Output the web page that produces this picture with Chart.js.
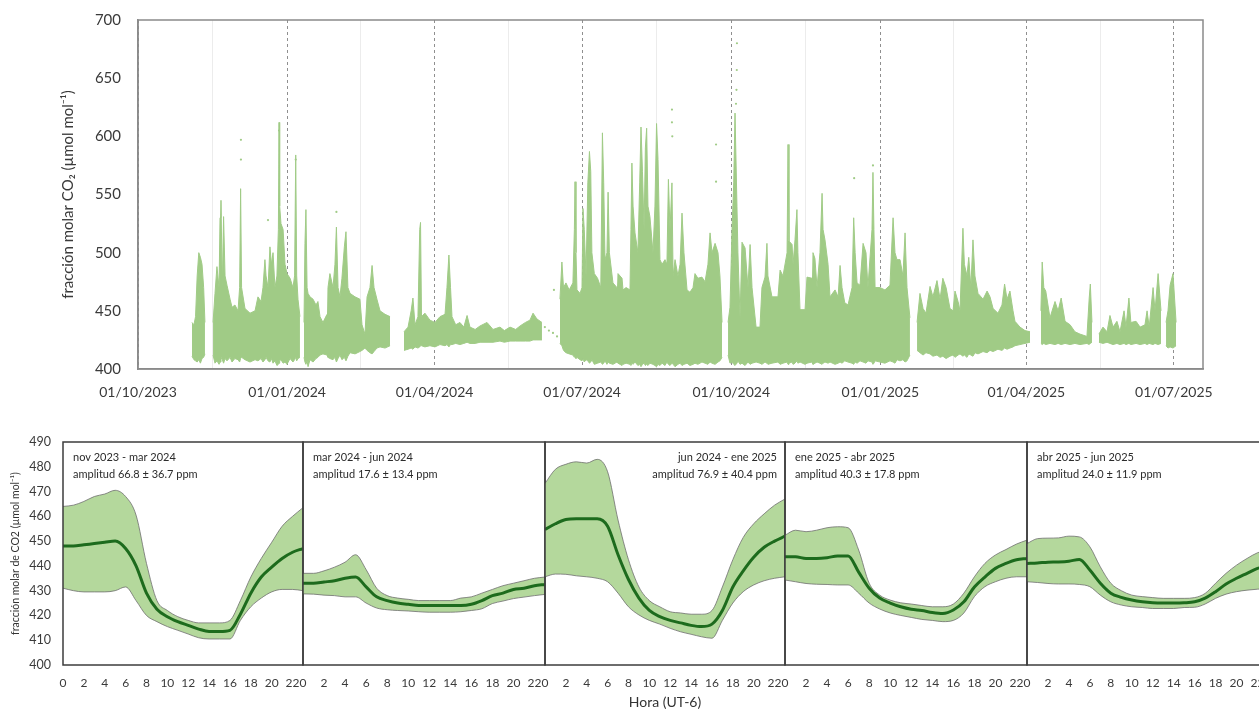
<!DOCTYPE html>
<html lang="es">
<head>
<meta charset="utf-8">
<title>CO2</title>
<script src="https://cdn.jsdelivr.net/npm/chart.js@4.4.1/dist/chart.umd.min.js"></script>
<style>
  html, body { margin: 0; padding: 0; background: #fff; overflow: hidden; }
  body { width: 1259px; height: 711px; position: relative; }
  canvas { position: absolute; }
</style>
</head>
<body>
<canvas id="serie" width="1259" height="410" style="left:0;top:0"></canvas>
<script>
// ---- serie de tiempo: dias desde 01/10/2023, rango observado (min - max) ----
const dias = [
  33.3, 34.5, 35.5, 36.5, 37.5, 38.5, 39.5, 40.5, 41.3, 44,
  46.3, 47.5, 48.7, 50, 50.6, 51.2, 52, 52.8, 53.7, 54.9, 56.8, 58, 59.8, 61.7, 62.7, 63.3, 63.9, 66, 69.1, 72.2, 74, 75.9, 77.1, 78.3, 79, 80.2, 81.4, 82.3, 83.3, 84.5, 85.7, 86.6, 87, 87.4, 88.2, 89.5, 90.7, 91.9, 93.8, 95.6, 96.6, 97.3, 97.9, 98.7, 99.9, 101,
  102.4, 103, 103.6, 104.3, 104.9, 106.1, 108, 109.8, 111, 112.3, 114.1, 116.6, 117.2, 118.4, 120.3, 121.5, 122.4, 123.4, 124.6, 125.8, 127.3, 128.3, 129.5, 130.8, 133.9, 136.9, 138.2, 140, 141.3, 143.1, 144.4, 145.6, 147.4, 149.3, 152.4, 155.5, 160,
  164.1, 166.6, 168.5, 169.6, 170.9, 172.7, 173.8, 174.3, 174.9, 177, 180.1, 183.2, 186.3, 189.4, 190.6, 191.8, 192.8, 193.7, 196, 198.6, 201, 203, 204.8, 208, 211, 215.3, 219, 223.3, 226, 229.5, 233, 235.7, 239, 241.8, 243.7, 246.1, 249.2, 255,
  260.3, 261.5, 262.5, 264, 266, 268.3, 269.2, 269.6, 270.2, 270.8, 272.7, 273.9, 274.5, 275.3, 276.4, 277.5, 278.5, 279.3, 280, 281.5, 283.5, 285.5, 286.5, 287.3, 288.1, 289.3, 290, 290.8, 293, 295.5, 296.1, 298.6, 299.2, 301.1, 303.5, 304.1, 304.7, 305.4, 306.6, 308.4, 309.5, 310.3, 311.2, 312.2, 313, 313.8, 314.6, 315.8, 317.7, 318.9, 319.9, 320.8, 322, 323.3, 325.1, 326.3, 327.2, 328.2, 329.4, 330.1, 331.3, 333.1, 334.4, 335.6, 336.8, 338.7, 340.5, 342.4, 343.6, 345.4, 347.9, 349.8, 351.6, 352.9, 354.1, 356, 357.8, 359, 360.3, 362,
  364, 365.2, 366.4, 367.5, 368.3, 369.5, 370.1, 371.4, 372.6, 374.5, 376.3, 377.6, 378.8, 381.3, 383.7, 384.9, 386.8, 388, 388.6, 391.1, 394.8, 396.1, 397.9, 400.4, 401, 401.6, 403.5, 404.1, 405.3, 406.5, 407.1, 408.4, 411.5, 412.7, 415.8, 416.4, 417.6, 418.9, 420.7, 422, 422.6, 423.8, 425.7, 426.9, 430, 431.9, 433.1, 434.3, 436, 438, 440.5, 441.5, 442.4, 443.6, 445.4, 447.3, 449.1, 450.3, 452.8, 453.4, 454, 454.7, 457.7, 460.8, 463.9, 465.8, 467, 468.2, 470.1, 471.9, 473.2, 474.4, 476.2, 478.5,
  480.6, 482.4, 484.3, 486.1, 488.6, 490.4, 492.9, 494.8, 496.5, 498.5, 500.9, 502.8, 504, 505.9, 507.1, 508.9, 509.8, 511.4, 512.5, 513.8, 515.1, 516.3, 518.2, 521.3, 523.8, 525.6, 527.5, 530.5, 533, 534.6, 536.1, 537.9, 539.8, 541, 544.1, 547.2, 550.3, 554,
  557, 557.8, 558.8, 560, 562.6, 565.7, 567.6, 569.5, 571.9, 575, 578, 581.1, 585.4, 586.8, 587.5, 588.5, 590.5,
  592.8, 595.3, 597.8, 599.6, 601.5, 603.9, 605.8, 608.3, 609.5, 611.3, 612.5, 615.7, 618.2, 621.2, 622.5, 623.8, 626.2, 627.4, 629.3, 631.1, 632.6,
  634.2, 635.4, 636.7, 638.5, 640.4
];
const maximo = [
  440, 438, 445, 480, 500, 496, 490, 470, 440, null,
  440, 465, 488, 470, 530, 545, 470, 531, 480, 472, 460, 453, 455, 450, 470, 555, 470, 452, 448, 450, 462, 458, 470, 494, 480, 470, 505, 490, 500, 470, 480, 520, 612, 540, 525, 520, 490, 482, 478, 470, 480, 584, 480, 460, 445, null,
  440, 508, 537, 470, 465, 462, 460, 455, 458, 445, 440, 447, 470, 482, 470, 490, 522, 470, 462, 478, 505, 518, 470, 465, 462, 460, 438, 430, 462, 470, 489, 470, 460, 450, 447, 445, null,
  432, 436, 450, 461, 438, 445, 520, 526, 445, 448, 442, 440, 445, 447, 470, 498, 470, 445, 438, 440, 436, 446, 436, 434, 437, 440, 434, 436, 433, 436, 434, 437, 440, 442, 448, 443, 440, null,
  460, 492, 470, 474, 468, 474, 520, 561, 500, 468, 465, 470, 538, 520, 480, 560, 587, 570, 500, 482, 478, 470, 603, 560, 494, 500, 552, 500, 474, 470, 482, 478, 468, 470, 468, 520, 577, 540, 517, 500, 560, 608, 570, 520, 590, 607, 540, 531, 500, 540, 611, 580, 494, 490, 494, 490, 563, 520, 560, 480, 494, 480, 490, 534, 500, 468, 466, 470, 482, 478, 479, 475, 490, 517, 500, 508, 500, 480, 440, null,
  440, 453, 517, 560, 620, 540, 500, 444, 509, 504, 470, 507, 470, 436, 436, 470, 479, 508, 480, 462, 462, 485, 480, 500, 593, 510, 507, 490, 511, 537, 500, 451, 451, 479, 478, 500, 495, 470, 500, 551, 520, 511, 490, 462, 468, 462, 489, 470, 457, 455, 470, 530, 500, 474, 472, 508, 500, 470, 520, 569, 520, 470, 470, 468, 472, 530, 500, 494, 494, 480, 517, 470, 444, null,
  440, 465, 452, 448, 471, 462, 476, 460, 478, 470, 452, 450, 467, 458, 450, 521, 490, 480, 496, 470, 511, 480, 465, 460, 467, 462, 452, 448, 455, 473, 460, 467, 450, 441, 436, 433, 432, null,
  450, 492, 470, 467, 444, 458, 450, 461, 441, 438, 432, 430, 428, 461, 473, 440, null,
  430, 436, 432, 446, 436, 441, 432, 450, 436, 461, 440, 441, 436, 438, 450, 436, 470, 450, 482, 450, null,
  440, 450, 472, 482, 440
];
const minimo = [
  411, 408, 407, 406, 408, 405, 409, 410, 413, null,
  412, 405, 407, 404, 406, 410, 408, 405, 409, 407, 410, 406, 409, 408, 406, 409, 410, 408, 406, 408, 407, 409, 406, 408, 410, 407, 406, 409, 405, 407, 403, 404, 405, 407, 408, 405, 406, 404, 409, 406, 408, 410, 407, 409, 410, null,
  410, 406, 404, 407, 402, 408, 406, 409, 410, 412, 413, 412, 410, 409, 408, 410, 406, 409, 412, 408, 410, 407, 411, 414, 413, 415, 416, 418, 416, 414, 413, 415, 418, 419, 418, 420, null,
  416, 417, 418, 417, 419, 418, 419, 420, 420, 419, 420, 419, 421, 420, 421, 419, 421, 421, 422, 421, 422, 423, 422, 422, 423, 423, 423, 424, 423, 424, 424, 424, 424, 424, 425, 425, 425, null,
  422, 420, 416, 414, 413, 412, 410, 411, 409, 410, 408, 407, 409, 406, 408, 407, 405, 406, 408, 404, 405, 406, 404, 405, 407, 404, 406, 405, 404, 406, 405, 403, 404, 405, 404, 403, 405, 404, 406, 403, 404, 402, 404, 405, 403, 404, 403, 405, 404, 403, 402, 404, 403, 405, 403, 406, 404, 403, 405, 404, 402, 404, 405, 403, 404, 405, 403, 404, 405, 404, 406, 405, 404, 406, 405, 404, 406, 407, 410, null,
  412, 405, 406, 404, 403, 405, 407, 404, 405, 403, 406, 404, 405, 406, 405, 404, 406, 405, 404, 405, 406, 404, 405, 406, 404, 405, 406, 404, 405, 407, 405, 406, 404, 405, 406, 404, 405, 406, 405, 404, 405, 406, 405, 406, 404, 405, 406, 405, 407, 406, 405, 404, 406, 405, 407, 406, 405, 407, 406, 404, 405, 407, 406, 405, 407, 406, 405, 408, 407, 408, 406, 407, 412, null,
  416, 414, 412, 414, 413, 411, 412, 410, 411, 409, 411, 412, 410, 412, 413, 411, 412, 410, 413, 412, 411, 414, 413, 415, 414, 416, 415, 417, 416, 418, 417, 418, 419, 420, 421, 422, 423, null,
  422, 421, 422, 421, 422, 421, 422, 421, 422, 421, 422, 421, 422, 421, 422, 423, null,
  423, 422, 423, 422, 421, 422, 421, 422, 421, 422, 421, 422, 421, 422, 421, 422, 421, 422, 421, 422, null,
  420, 418, 419, 418, 420
];
// puntos aislados por encima del rango principal
const atipicosDia = [63.5, 63.5, 80.2, 87, 97.3, 122.4, 251, 253.5, 256, 256.6, 258.5, 329.4, 329.4, 329.6, 356.6, 356.6, 368.9, 369.2, 369.4, 369.5, 441.8, 453.4];
const atipicosValor = [597, 580, 528, 605, 580, 535, 436, 433, 431, 468, 428, 623, 612, 600, 593, 561, 628, 640, 657, 680, 564, 575];

const diasEtiqueta = [0, 92, 183, 274, 366, 458, 548, 639];
const etiquetasFecha = ['01/10/2023', '01/01/2024', '01/04/2024', '01/07/2024', '01/10/2024', '01/01/2025', '01/04/2025', '01/07/2025'];
const diasIntermedios = [46, 137.5, 228.5, 320, 412, 503, 593.5];

// ---- ciclo diurno por periodo ----
const horas = [0, 1, 2, 3, 4, 5, 6, 7, 8, 9, 10, 11, 12, 13, 14, 15, 16, 17, 18, 19, 20, 21, 22, 23];
const horasEtiqueta = [0, 2, 4, 6, 8, 10, 12, 14, 16, 18, 20, 22];
const periodos = ['nov 2023 - mar 2024', 'mar 2024 - jun 2024', 'jun 2024 - ene 2025', 'ene 2025 - abr 2025', 'abr 2025 - jun 2025'];
const amplitudes = ['amplitud 66.8 ± 36.7 ppm', 'amplitud 17.6 ± 13.4 ppm', 'amplitud 76.9 ± 40.4 ppm', 'amplitud 40.3 ± 17.8 ppm', 'amplitud 24.0 ± 11.9 ppm'];

const media1 = [448, 448, 448.5, 449, 449.5, 450, 447, 440, 429, 422.5, 419.5, 417.5, 416, 414.5, 413.5, 413.5, 414, 420.5, 429, 435.5, 439.5, 443, 445.5, 447];
const sup1 = [464, 464.5, 466, 468, 469, 470.5, 468, 460.5, 441, 426, 422, 419.5, 418, 417, 417, 417, 418, 426, 435.5, 443, 449.5, 456, 460, 463.5];
const inf1 = [431, 430, 429.5, 429.5, 429.5, 430, 431.5, 426, 420, 417.5, 415.5, 414, 412.5, 411, 410.5, 410.5, 410.5, 418, 423.5, 427, 429.5, 430.5, 430.5, 430];

const media2 = [433, 433, 433.5, 434, 435, 435.5, 431.5, 427.5, 426, 425, 424.5, 424, 424, 424, 424, 424, 424.5, 426, 428, 429, 430.5, 431, 432, 432.5];
const sup2 = [437, 437, 438, 439.5, 441.5, 444.5, 438.5, 431, 428, 427, 426.5, 426, 426, 426, 426, 427, 427.5, 429, 430.5, 432, 433, 434, 435, 435.5];
const inf2 = [428.7, 428.6, 428.2, 428, 427.5, 427.5, 425, 423, 422.3, 422, 421.8, 421.5, 421.3, 421.3, 421.3, 421.5, 422, 422.7, 424.8, 425.8, 426.8, 427.4, 428, 428.5];

const media3 = [454.7, 457, 458.7, 459, 459, 459, 456, 444.5, 434.5, 427, 422, 419.5, 418, 417, 416, 415.5, 416.5, 422, 431.5, 438, 443.5, 447.5, 450, 452];
const sup3 = [473.3, 479, 481, 482, 481.5, 483, 478, 458.5, 442.5, 431.5, 426, 423.5, 421.5, 421, 420.5, 420.5, 422, 431.5, 442.5, 451.5, 457, 461, 464.5, 467];
const inf3 = [435.6, 436.7, 436.6, 436, 435.6, 435, 433.6, 429, 423.5, 420.2, 418, 416.5, 414.8, 413.4, 412.4, 411.4, 410.8, 418, 425, 429.6, 432.3, 434, 435, 435.6];

const media4 = [443.7, 443.7, 443, 443, 443.3, 444, 444, 437.5, 431, 427, 425, 423.5, 422.5, 422, 421.2, 420.8, 422.2, 425.5, 431.5, 435.5, 439, 441, 442.5, 443];
const sup4 = [452.4, 454.4, 453.8, 454.4, 455.4, 455.8, 455.4, 446.4, 433, 428.2, 426.2, 425.1, 424.6, 424, 423.5, 423.5, 424.6, 429, 435.6, 441, 444.4, 446.6, 448.8, 450.4];
const inf4 = [434.3, 433.6, 432.9, 432.6, 432.5, 432.3, 432.3, 429, 425, 422.6, 421, 420, 419.2, 418.4, 418, 417.5, 418, 421, 427.6, 431.6, 433.6, 435, 435.6, 435.6];

const media5 = [441, 441.2, 441.5, 441.6, 441.9, 442.6, 438.3, 433, 429, 427.3, 426.2, 425.5, 425.1, 425, 425, 425.1, 425.5, 427, 429.6, 432.7, 435, 437, 439, 440];
const sup5 = [449, 451, 451.2, 451.3, 452, 451.7, 447.7, 439.6, 433, 430, 428.2, 427.6, 427.2, 426.9, 426.9, 426.9, 427.2, 428.9, 433, 437, 440.3, 443, 445.3, 446.5];
const inf5 = [433.6, 433.3, 432.9, 432.7, 432.7, 432.5, 431.6, 428.2, 425.5, 424.2, 423.5, 423.2, 422.8, 422.8, 422.8, 423.2, 423.3, 424.6, 426.9, 428.6, 429.6, 430.2, 430.6, 431];

const ciclos = [
  [media1, sup1, inf1],
  [media2, sup2, inf2],
  [media3, sup3, inf3],
  [media4, sup4, inf4],
  [media5, sup5, inf5]
];

Chart.defaults.font.family = "Lato, 'Open Sans', sans-serif";
Chart.defaults.color = '#333';

const verde = '#a0cb86';
function pares(xs, ys) { return xs.map((x, i) => ({x: x, y: ys[i]})); }

// marco alrededor del area y textos de cada panel
const marco = {
  id: 'marco',
  afterDraw(chart, args, opts) {
    const ctx = chart.ctx, a = chart.chartArea;
    ctx.save();
    ctx.strokeStyle = opts.color;
    ctx.lineWidth = opts.width;
    ctx.strokeRect(a.left, a.top, a.right - a.left, a.bottom - a.top);
    if (opts.lineas) {
      ctx.fillStyle = '#2b2b2b';
      ctx.font = "11px Lato, 'Open Sans', sans-serif";
      ctx.textBaseline = 'middle';
      ctx.textAlign = opts.derecha ? 'right' : 'left';
      const x = opts.derecha ? a.right - 8 : a.left + 10;
      ctx.fillText(opts.lineas[0], x, a.top + 15);
      ctx.fillText(opts.lineas[1], x, a.top + 32);
    }
    ctx.restore();
  }
};

// eje y sin lineas: las marcas invisibles separan las etiquetas del eje
const ejeSinLineas = largo => ({
  display: true,
  drawOnChartArea: false,
  drawTicks: true,
  tickLength: largo,
  color: 'rgba(0,0,0,0)'
});

// ---- grafica superior ----
const marcasX = diasEtiqueta.concat(diasIntermedios).sort((a, b) => a - b);
const esMayor = ctx => ctx.tick && diasEtiqueta.indexOf(ctx.tick.value) >= 0;

new Chart(document.getElementById('serie'), {
  type: 'line',
  data: {
    datasets: [
      {
        type: 'scatter',
        data: pares(atipicosDia, atipicosValor),
        pointRadius: 1.1,
        pointBackgroundColor: verde,
        pointBorderWidth: 0
      },
      {
        data: pares(dias, maximo),
        borderColor: verde,
        borderWidth: 1,
        pointRadius: 0,
        tension: 0,
        spanGaps: false
      },
      {
        data: pares(dias, minimo),
        borderColor: verde,
        borderWidth: 1,
        pointRadius: 0,
        tension: 0,
        spanGaps: false,
        fill: '-1',
        backgroundColor: verde
      }
    ]
  },
  options: {
    responsive: false,
    animation: false,
    events: [],
    layout: { padding: { left: 0, right: 56, top: 20, bottom: 0 } },
    plugins: {
      legend: { display: false },
      tooltip: { enabled: false },
      marco: { color: '#8a8a8a', width: 1.5 }
    },
    scales: {
      x: {
        type: 'linear',
        min: 0,
        max: 657,
        afterBuildTicks: s => { s.ticks = marcasX.map(v => ({value: v})); },
        afterFit: s => { s.height = 41; },
        ticks: {
          autoSkip: false,
          maxRotation: 0,
          padding: 15,
          color: '#3a3a3a',
          font: { size: 14 },
          callback: v => {
            const i = diasEtiqueta.indexOf(v);
            return i >= 0 ? etiquetasFecha[i] : '';
          }
        },
        grid: {
          drawTicks: false,
          lineWidth: 1,
          color: ctx => esMayor(ctx) ? '#8f8f8f' : '#ececec'
        },
        border: {
          color: '#8a8a8a',
          width: 1.5,
          dash: ctx => esMayor(ctx) ? [3, 3] : []
        }
      },
      y: {
        min: 400,
        max: 700,
        afterFit: s => { s.width = 138; },
        ticks: { stepSize: 50, padding: 3, color: '#3a3a3a', font: { size: 15 } },
        grid: ejeSinLineas(14),
        border: { color: '#8a8a8a', width: 1.5 },
        title: {
          display: true,
          text: 'fracción molar CO₂ (µmol mol⁻¹)',
          color: '#3a3a3a',
          font: { size: 15 },
          padding: { top: 59, bottom: 0 }
        }
      }
    }
  },
  plugins: [marco]
});

// ---- paneles del ciclo diurno ----
const panelIzq = [63, 303, 545, 785, 1027];
const panelDer = [303, 545, 785, 1027, 1268];
const margen = 18;

ciclos.forEach((serie, k) => {
  const lienzo = document.createElement('canvas');
  const primero = k === 0;
  const izq = primero ? 0 : panelIzq[k] - margen;
  const ancho = panelDer[k] + margen - izq;
  lienzo.width = ancho;
  lienzo.height = 281;
  lienzo.style.left = izq + 'px';
  lienzo.style.top = '430px';
  document.body.appendChild(lienzo);

  const curva = { pointRadius: 0, cubicInterpolationMode: 'monotone' };

  new Chart(lienzo, {
    type: 'line',
    data: {
      datasets: [
        Object.assign({ data: pares(horas, serie[0]), borderColor: '#1d6b1d', borderWidth: 3 }, curva),
        Object.assign({ data: pares(horas, serie[1]), borderColor: '#6e6e6e', borderWidth: 0.8 }, curva),
        Object.assign({ data: pares(horas, serie[2]), borderColor: '#6e6e6e', borderWidth: 0.8,
          fill: '-1', backgroundColor: '#b4d89c' }, curva)
      ]
    },
    options: {
      responsive: false,
      animation: false,
      events: [],
      layout: { padding: { left: primero ? 0 : margen, right: margen, top: 12, bottom: 0 } },
      plugins: {
        legend: { display: false },
        tooltip: { enabled: false },
        marco: { color: '#3c3c3c', width: 1.5, lineas: [periodos[k], amplitudes[k]], derecha: k === 2 }
      },
      scales: {
        x: {
          type: 'linear',
          min: 0,
          max: 23,
          afterBuildTicks: s => { s.ticks = horasEtiqueta.map(v => ({value: v})); },
          afterFit: s => { s.height = 46; },
          ticks: { autoSkip: false, maxRotation: 0, padding: 11, color: '#3a3a3a', font: { size: 12 } },
          grid: { display: false, drawTicks: false },
          border: { display: false },
          title: {
            display: k === 2,
            text: 'Hora (UT-6)',
            color: '#333',
            font: { size: 14 },
            padding: { top: 0, bottom: 0 }
          }
        },
        y: {
          display: primero,
          min: 400,
          max: 490,
          afterFit: s => { s.width = primero ? 63 : 0; },
          ticks: { stepSize: 10, padding: 3, color: '#3a3a3a', font: { size: 12.5 } },
          grid: ejeSinLineas(9),
          border: { display: false },
          title: {
            display: true,
            text: 'fracción molar de CO2 (µmol mol⁻¹)',
            color: '#333',
            font: { size: 10.5 },
            padding: { top: 9, bottom: 0 }
          }
        }
      }
    },
    plugins: [marco]
  });
});
</script>
</body>
</html>
